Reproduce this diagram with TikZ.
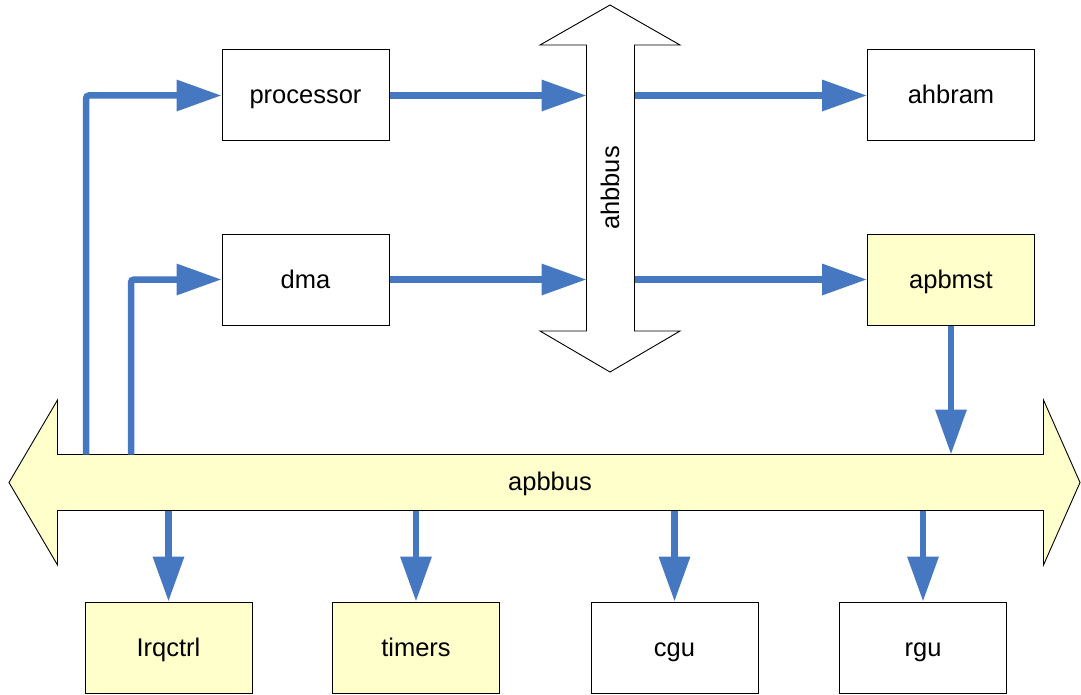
\documentclass[tikz,border=0pt]{standalone}
\usepackage{fontspec}
\setmainfont{Liberation Sans}
\usetikzlibrary{arrows.meta}
\definecolor{conn}{HTML}{4677C1}
\definecolor{pale}{HTML}{FFFFCC}
\begin{document}
\begin{tikzpicture}[x=1pt,y=-1pt,
  lbl/.style={font=\fontsize{25.5}{30}\selectfont},
  box/.style={lbl, text height=18pt, text depth=1pt, draw=black, line width=1pt, minimum width=167pt, minimum height=91pt, inner sep=0pt},
  ybox/.style={box, fill=pale},
  link/.style={draw=conn, line width=6.5pt, -{Triangle[length=45pt,width=30pt]}, rounded corners=3pt},
  bus/.style={draw=black, line width=0.9pt, line join=miter}]
\useasboundingbox (0,0) rectangle (1081,695);

% buses
\draw[bus, fill=white] (610,5) -- (680,45) -- (634.5,45) -- (634.5,331) -- (680,331) -- (610,372)
  -- (540,331) -- (586.5,331) -- (586.5,45) -- (540,45) -- cycle;
\draw[bus, fill=pale] (9,482.5) -- (57.5,400) -- (57.5,454.5) -- (1043.5,454.5) -- (1043.5,400)
  -- (1080,482.5) -- (1043.5,565) -- (1043.5,510.5) -- (57.5,510.5) -- (57.5,565) -- cycle;
\node[lbl, rotate=90] (ahbbus) at (610,188) {ahbbus};
\node[lbl] (apbbus) at (550,484) {apbbus};

% boxes
\node[box]  (processor) at (305.5,95.5) {processor};
\node[box]  (ahbram)    at (951,95.5)   {ahbram};
\node[box]  (dma)       at (305.5,279.5) {dma};
\node[ybox] (apbmst)    at (951,279.5)  {apbmst};
\node[ybox] (irqctrl)   at (168.5,647.5) {Irqctrl};
\node[ybox] (timers)    at (416,647.5)  {timers};
\node[box]  (cgu)       at (674.5,647.5) {cgu};
\node[box]  (rgu)       at (923,647.5)  {rgu};

% bus attachment points
\coordinate (ap1) at (86,454.5);
\coordinate (ap2) at (131,454.5);
\coordinate (ahbL1) at (586.5,95.5);
\coordinate (ahbR1) at (634.5,95.5);
\coordinate (ahbL2) at (586.5,279.5);
\coordinate (ahbR2) at (634.5,279.5);
\coordinate (apin) at (951,454.5);
\coordinate (d1) at (168.5,510.5);
\coordinate (d2) at (416,510.5);
\coordinate (d3) at (674.5,510.5);
\coordinate (d4) at (923,510.5);

% connectors
\draw[link] (ap1) |- (processor.west);
\draw[link] (ap2) |- (dma.west);
\draw[link] (processor.east) -- (ahbL1);
\draw[link] (ahbR1) -- (ahbram.west);
\draw[link] (dma.east) -- (ahbL2);
\draw[link] (ahbR2) -- (apbmst.west);
\draw[link] (apbmst.south) -- (apin);
\draw[link] (d1) -- (irqctrl.north);
\draw[link] (d2) -- (timers.north);
\draw[link] (d3) -- (cgu.north);
\draw[link] (d4) -- (rgu.north);
\end{tikzpicture}
\end{document}
